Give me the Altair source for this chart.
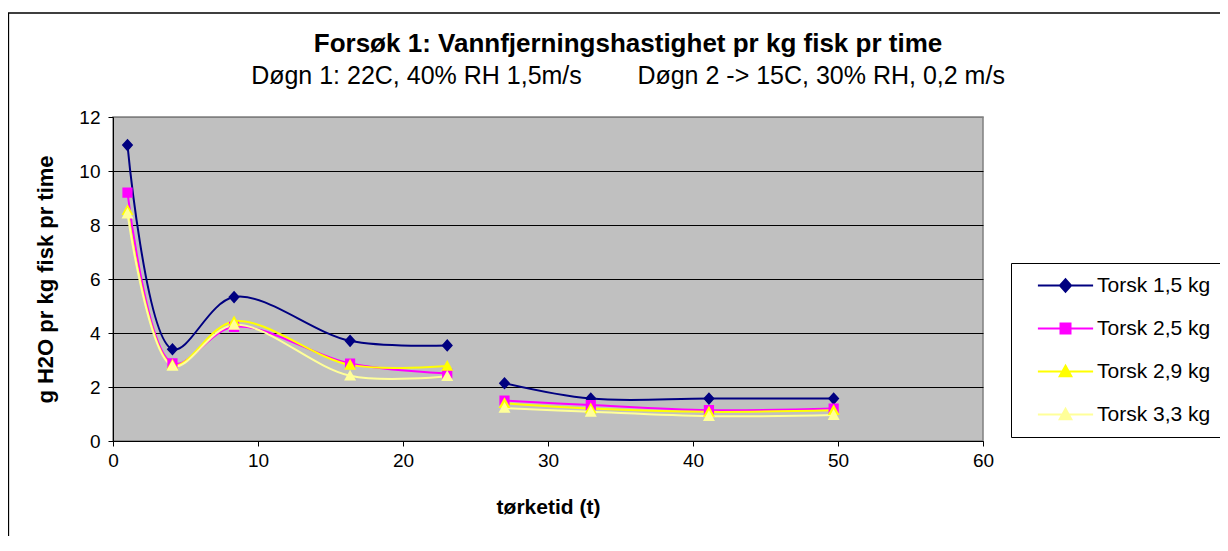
import altair as alt
import pandas as pd

# ---- data ----
series = ["Torsk 1,5 kg", "Torsk 2,5 kg", "Torsk 2,9 kg", "Torsk 3,3 kg"]
hours = [1.0, 4.1, 8.35, 16.35, 23.05, 27.0, 32.95, 41.1, 49.7]
segment = ["d1", "d1", "d1", "d1", "d1", "d2", "d2", "d2", "d2"]
torsk_15 = [10.96, 3.40, 5.33, 3.71, 3.54, 2.14, 1.57, 1.57, 1.57]
torsk_25 = [9.20, 2.88, 4.23, 2.87, 2.50, 1.50, 1.33, 1.14, 1.20]
torsk_29 = [8.55, 2.82, 4.43, 2.82, 2.78, 1.40, 1.20, 1.08, 1.14]
torsk_33 = [8.42, 2.78, 4.30, 2.42, 2.40, 1.22, 1.08, 0.92, 0.96]
x_ticks = [0, 10, 20, 30, 40, 50, 60]
y_ticks = [0, 2, 4, 6, 8, 10, 12]

colors = ["#000080", "#FF00FF", "#FFFF00", "#FFFF99"]
# marker paths with a horizontal stub (visible only where a stroke is drawn, i.e. legend)
shapes = [
    "M-4.6,0L4.6,0M0,-1.05L0.95,0L0,1.05L-0.95,0Z",
    "M-4.6,0L4.6,0M-0.85,-0.85L0.85,-0.85L0.85,0.85L-0.85,0.85Z",
    "M-4.6,0L4.6,0M0,-1.0L1.0,0.8L-1.0,0.8Z",
    "M-4.6,0L4.6,0M0,-1.0L1.0,0.8L-1.0,0.8Z",
]

values = [torsk_15, torsk_25, torsk_29, torsk_33]
rows = []
for s, vals in zip(series, values):
    for t, v, seg in zip(hours, vals, segment):
        rows.append({"serie": s, "t": t, "v": v, "seg": s + seg})
df = pd.DataFrame(rows)

FONT = "Liberation Sans"

legend = alt.Legend(
    title=None, orient="none", legendX=898, legendY=146, direction="vertical",
    fillColor="white", strokeColor="black", padding=12,
    labelFont=FONT, labelFontSize=21, labelColor="black",
    symbolSize=144, symbolStrokeWidth=1.8, symbolOffset=32, labelOffset=21,
    rowPadding=21,
)
color = alt.Color("serie:N", scale=alt.Scale(domain=series, range=colors), legend=legend)

x = alt.X("t:Q", scale=alt.Scale(domain=[0, 60], nice=False, zero=False),
          axis=alt.Axis(values=x_ticks, grid=False, domainColor="black", tickColor="black",
                        tickSize=5, labelFont=FONT, labelFontSize=19, labelColor="black",
                        labelPadding=5, labelFlush=False, title="tørketid (t)",
                        titleFont=FONT, titleFontSize=21, titleFontWeight="bold",
                        titleColor="black", titleY=66, titleBaseline="middle"))
y = alt.Y("v:Q", scale=alt.Scale(domain=[0, 12], nice=False),
          axis=alt.Axis(values=y_ticks, grid=True, gridWidth=1,
                        gridColor={"condition": {"test": "datum.value === 12", "value": "#808080"},
                                   "value": "black"},
                        domainColor="black", tickColor="black", tickSize=5,
                        labelFont=FONT, labelFontSize=19, labelColor="black", labelPadding=8,
                        title="g H2O pr kg fisk pr time", titleFont=FONT, titleFontSize=22,
                        titleFontWeight="bold", titleColor="black", titleX=-68, titleY=162,
                        titleAngle=270, titleBaseline="middle", titleAlign="center"))

base = alt.Chart(df)

frame = alt.Chart(alt.Data(values=[{"f": 1}])).mark_rect(
    filled=False, color="black", strokeWidth=1.3
).encode(x=alt.value(-104.5), x2=alt.value(1400), y=alt.value(-104), y2=alt.value(800))

lines = base.mark_line(interpolate="catmull-rom", strokeWidth=2).encode(
    x=x, y=y, color=color, detail="seg:N"
)
points = base.mark_point(filled=True, size=144, opacity=1).encode(
    x=x, y=y, color=color,
    shape=alt.Shape("serie:N", scale=alt.Scale(domain=series, range=shapes), legend=legend),
)

chart = alt.layer(frame, lines, points).properties(
    width=870, height=324,
    padding={"left": 105, "top": 109, "right": 237, "bottom": 95},
    autosize="none",
    background="white",
    title=alt.TitleParams(
        text="Forsøk 1: Vannfjerningshastighet pr kg fisk pr time",
        subtitle="Døgn 1: 22C, 40% RH 1,5m/s" + "\u00a0" * 8 + "Døgn 2 -> 15C, 30% RH, 0,2 m/s",
        anchor="middle", frame="group", dx=80, offset=-77, font=FONT, fontSize=26,
        fontWeight="bold", color="black", subtitleFont=FONT, subtitleFontSize=25,
        subtitleColor="black", subtitlePadding=7,
    ),
).configure_view(stroke="#808080", strokeWidth=1.5, fill="#C0C0C0")

chart.save("out.html", embed_options={"renderer": "svg", "actions": False})
